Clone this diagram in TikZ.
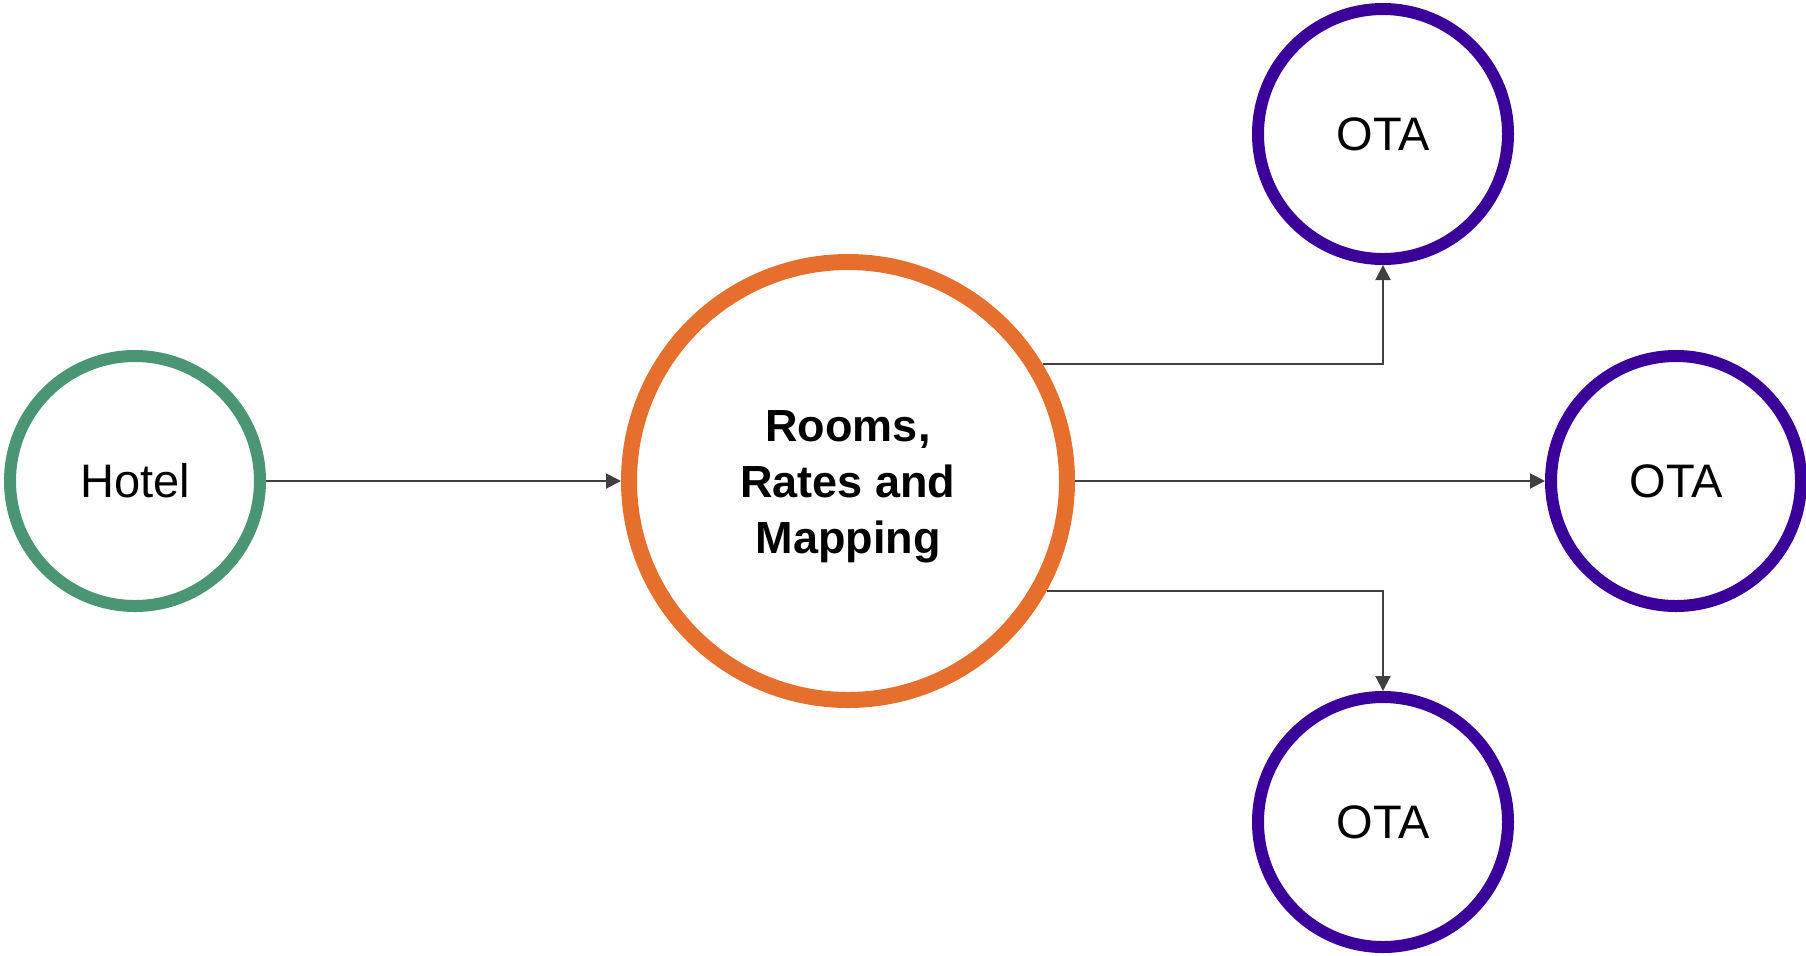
\documentclass[tikz,border=0pt]{standalone}
\usepackage{fontspec}
\setmainfont{Liberation Sans}
\usetikzlibrary{arrows.meta,positioning}
\definecolor{hotelgreen}{HTML}{4A9574}
\definecolor{huborange}{HTML}{E76F2E}
\definecolor{otapurple}{HTML}{3A0099}
\definecolor{linkgray}{HTML}{404040}
\begin{document}
\begin{tikzpicture}[x=0.5pt,y=-0.5pt,
  every node/.style={font=\fontsize{23.5}{28}\selectfont},
  ring/.style={circle,draw,fill=white,inner sep=0pt,line width=6pt,minimum size=125pt},
  link/.style={draw=linkgray,line width=1pt,-{Triangle[length=7.5pt,width=7.5pt]}}]
\useasboundingbox (0,0) rectangle (1806,955);
\node[ring,draw=hotelgreen] (hotel) at (135,481) {Hotel};
\node[ring,draw=huborange,line width=8pt,minimum size=219pt,
  font=\fontsize{22.5}{28}\selectfont\bfseries] (rrm) at (848,481)
  {\begin{tabular}{@{}c@{}}\rule{0pt}{25pt}Rooms,\\Rates and\\Mapping\end{tabular}};
\node[ring,draw=otapurple] (otaT) at (1383,134) {OTA};
\node[ring,draw=otapurple] (otaM) at (1676,481) {OTA};
\node[ring,draw=otapurple] (otaB) at (1383,822) {OTA};
\draw[link] (hotel)--(rrm);
\draw[link] (rrm)--(otaM);
\draw[link] (rrm.31.5) -| (otaT.south);
\draw[link] (rrm.-29.6) -| (otaB.north);
\end{tikzpicture}
\end{document}
